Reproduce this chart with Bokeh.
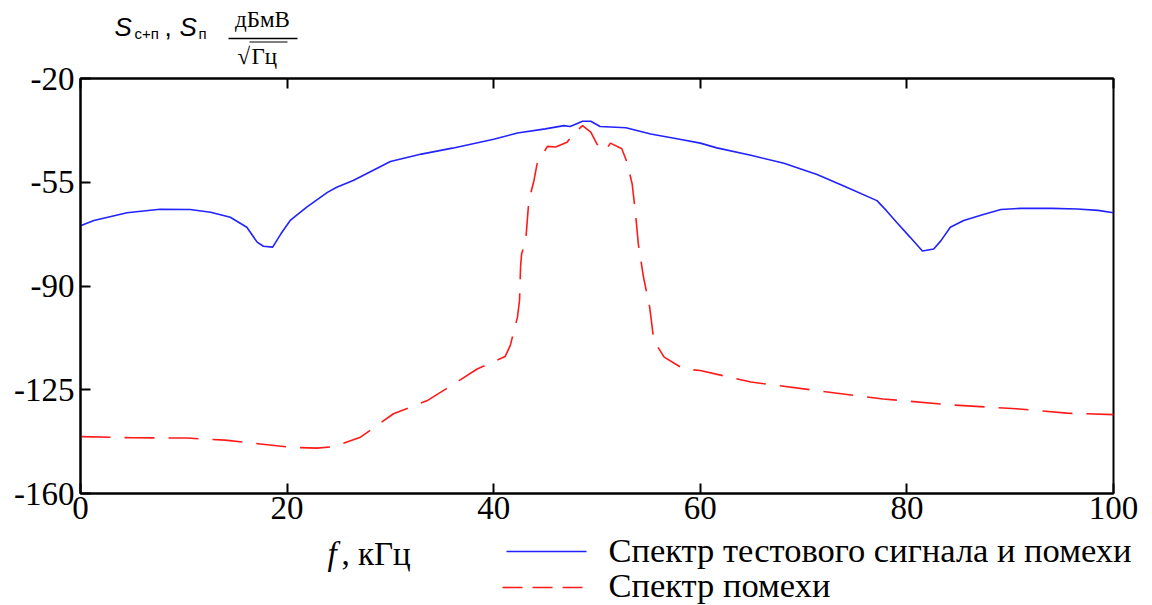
from bokeh.plotting import figure
from bokeh.models import (Range1d, FixedTicker, LinearAxis)
from bokeh.core.properties import value
from bokeh.embed import file_html
from bokeh.resources import INLINE

# ---- data ----
freq_total = [0, 1.3, 4.5, 7.7, 10.6, 12.6, 14.5, 16.1, 17.1, 17.7, 18.6, 19.4,
              20.3, 21.9, 23.9, 24.8, 26.4, 30, 33, 36, 40, 42.3, 45, 46.8, 47.4,
              48.6, 49.4, 50.3, 52.8, 55.2, 58, 60, 61.6, 65, 68.1, 71.3, 74,
              77.1, 78, 79, 80.3, 81.5, 82.6, 83.3, 84.2, 85.5, 87.4, 89.1, 91,
              94, 96.5, 98.5, 100]
level_total = [-69.7, -67.9, -65.3, -64.1, -64.2, -65.1, -66.8, -70.2, -75.2,
               -76.6, -76.9, -72.4, -67.9, -63.4, -58.4, -56.7, -54.4, -48.0,
               -45.5, -43.5, -40.5, -38.4, -37.0, -35.9, -36.2, -34.4, -34.4,
               -36.2, -36.6, -38.7, -40.5, -41.8, -43.4, -46.0, -48.6, -52.4,
               -56.4, -61.2, -64.5, -68.5, -73.5, -78.2, -77.5, -74.7, -70.2,
               -67.9, -65.9, -64.2, -63.8, -63.8, -64.0, -64.5, -65.3]

freq_noise = [0, 5, 10.3, 14, 17.4, 20.3, 22.9, 24.5, 27.1, 30.3, 33.6, 36.8,
              38.4, 41.1, 41.6, 42.3, 42.5, 42.6, 42.7, 43.1, 43.4, 43.9, 44.2,
              45.2, 46.0, 47.1, 47.8, 48.6, 49.4, 50.0, 50.8, 51.3, 52.4, 52.9,
              53.4, 53.7, 54.0, 54.5, 55.1, 55.5, 56.5, 58.4, 60, 64.9, 71.3,
              77.7, 84.2, 90.6, 95.5, 100]
level_noise = [-140.8, -141.2, -141.3, -142.0, -143.3, -144.4, -144.7, -144.2,
               -141.0, -133.1, -128.6, -121.6, -118.0, -113.8, -110.1, -100.5,
               -94.9, -83.6, -79.2, -74.7, -61.2, -54.4, -48.8, -42.9, -43.1,
               -41.5, -38.4, -35.9, -38.1, -42.1, -44.3, -41.8, -43.7, -48.2,
               -55.5, -64.5, -75.8, -87.0, -97.1, -108.4, -114.0, -118.0,
               -118.5, -122.4, -125.3, -128.1, -130.1, -131.4, -132.9, -133.4]

x_ticks = [0, 20, 40, 60, 80, 100]
y_ticks = [-160, -125, -90, -55, -20]
legend_labels = ["Спектр тестового сигнала и помехи", "Спектр помехи"]

BLUE = "#2222ff"
RED = "#ff1a1a"
RED_DASH = "30 14"

# ---- layout ----
FL, FT, FW, FH = 80, 78, 1033, 415
X0, X1, Y0, Y1 = 0, 100, -160, -20


def px_x(px):
    return X0 + (px - FL) / FW * (X1 - X0)


def px_y(py):
    return Y1 - (py - FT) / FH * (Y1 - Y0)


p = figure(frame_width=FW, frame_height=FH, output_backend="svg",
           toolbar_location=None, x_range=Range1d(X0, X1),
           y_range=Range1d(Y0, Y1), x_axis_location=None, y_axis_location=None,
           min_border_left=FL, min_border_top=FT, min_border_right=1152 - FL - FW,
           min_border_bottom=605 - FT - FH)
p.grid.visible = False
p.outline_line_color = "black"
p.outline_line_width = 2
p.outline_line_alpha = 1
p.background_fill_color = "white"
p.border_fill_color = "white"

SERIF = "Liberation Serif"
SANS = "Liberation Sans"


def style_axis(ax, labels=True):
    ax.major_tick_in = 10
    ax.major_tick_out = 0
    ax.minor_tick_line_color = None
    ax.axis_line_width = 2
    ax.axis_line_color = "black"
    ax.major_tick_line_width = 2
    ax.major_tick_line_color = "black"
    ax.major_label_text_font = SERIF
    ax.major_label_text_color = "black"
    ax.major_label_text_font_size = "33px"
    if not labels:
        ax.major_label_text_color = None


xax = LinearAxis(ticker=FixedTicker(ticks=x_ticks))
style_axis(xax)
xax.major_label_standoff = 3
p.add_layout(xax, "below")

yax = LinearAxis(ticker=FixedTicker(ticks=y_ticks),
                 major_label_overrides={t: str(t) for t in y_ticks})
style_axis(yax)
yax.major_label_standoff = 6
p.add_layout(yax, "left")

tax = LinearAxis(ticker=FixedTicker(ticks=x_ticks))
style_axis(tax, labels=False)
tax.major_label_overrides = {t: "" for t in x_ticks}
p.add_layout(tax, "above")

p.line(freq_total, level_total, line_color=BLUE, line_width=1.6)
p.line(freq_noise, level_noise, line_color=RED, line_width=1.6,
       line_dash=RED_DASH)


def txt(px, py, s, font, size, style="normal", align="left"):
    # py is the intended baseline in pixels; the glyph is placed 0.4 em higher
    shift = 0.4 * float(size.replace("px", ""))
    p.text(x=[px_x(px)], y=[px_y(py - shift)], text=[s], text_font=value(font),
           text_font_size=value(size), text_font_style=style,
           text_align=align, text_baseline="alphabetic", text_color="black",
           level="overlay")


def hline(px0, px1, py, w, color="black", dash="solid"):
    p.line(x=[px_x(px0), px_x(px1)], y=[px_y(py), px_y(py)],
           line_color=color, line_width=w, line_dash=dash, level="overlay")


# legend (drawn outside the frame)
hline(506, 586, 551, 1.6, BLUE)
txt(608, 563, legend_labels[0], SERIF, "34.5px")
hline(502, 582, 587, 1.6, RED, "20 10")
txt(608, 598, legend_labels[1], SERIF, "34.5px")

# x-axis title
txt(327, 567, "f", SERIF, "33px", "italic")
txt(341, 567, ", кГц", SERIF, "33px")

# y-axis title
txt(114, 37, "S", SANS, "26px", "italic")
txt(134, 38.5, "с+п", SANS, "15px")
txt(164, 37, ",", SANS, "26px")
txt(179, 37, "S", SANS, "26px", "italic")
txt(198, 38.5, "п", SANS, "15px")
txt(262, 28, "дБмВ", SERIF, "23px", align="center")
hline(228, 297, 38, 1.5)
txt(237, 65, "√", SERIF, "23px")
hline(249, 287, 41.5, 1)
txt(251, 65, "Гц", SERIF, "23px")

open("out.html", "w").write(file_html(p, INLINE))
